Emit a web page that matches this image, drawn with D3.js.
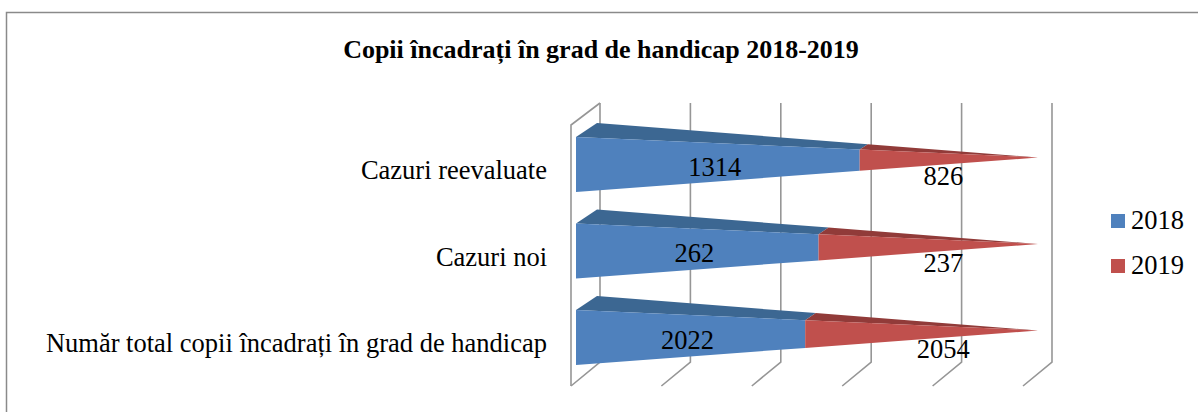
<!DOCTYPE html>
<html><head><meta charset="utf-8">
<script src="https://cdn.jsdelivr.net/npm/d3@7"></script>
<style>
html,body{margin:0;padding:0;background:#fff;}
svg{display:block;}
text{font-family:"Liberation Serif","Times New Roman",serif;fill:#000;}
</style></head>
<body>
<svg id="chart" width="1198" height="412"></svg>
<script>
// ---- data ----
const title = "Copii încadrați în grad de handicap 2018-2019";
const categories = ["Cazuri reevaluate", "Cazuri noi", "Număr total copii încadrați în grad de handicap"];
const values2018 = [1314, 262, 2022];
const values2019 = [826, 237, 2054];
const seriesNames = ["2018", "2019"];
const gridTicks = [0, 0.2, 0.4, 0.6, 0.8, 1];

// ---- layout ----
const W = 1198, H = 412;
const svg = d3.select("#chart");
const colors = {front: ["#4F81BD", "#C0504D"], top: ["#3C6792", "#913B39"]};
const gridColor = "#969696";

// outer border
svg.append("rect").attr("x", 6.5).attr("y", 12.5).attr("width", W).attr("height", H)
  .attr("fill", "none").attr("stroke", "#8a8a8a").attr("stroke-width", 1.5);

// title
svg.append("text").attr("x", 601).attr("y", 58).attr("text-anchor", "middle")
  .style("font-size", "26px").style("font-weight", "bold").text(title);

// scales
const xFront = d3.scaleLinear().domain([0, 1]).range([576, 1038]);   // bar front face
const xBack = d3.scaleLinear().domain([0, 1]).range([597, 1038]);    // bar back-top edge
const xGrid = d3.scaleLinear().domain([0, 1]).range([600, 1052]);    // back wall
const yC = d3.scalePoint().domain(categories).range([164.5, 337.5]);
const barH = 55, bdx = 21, bdy = -14;           // bar size and depth
const wallTop = 103, wallBot = 362, fdx = -29, fdy = 24; // walls/floor

// gridlines (back wall + floor)
const grid = svg.append("g").attr("stroke", gridColor).attr("stroke-width", 1.6).attr("fill", "none");
gridTicks.forEach(t => {
  const x = xGrid(t);
  grid.append("path").attr("d", `M${x},${wallTop}L${x},${wallBot}L${x + fdx},${wallBot + fdy}`);
});
// left side wall
const x0 = xGrid(0);
grid.append("path").attr("d", `M${x0},${wallTop}L${x0 + fdx},${wallTop + 22}L${x0 + fdx},${wallBot + fdy}`);

// bars
const bars = svg.append("g");
categories.forEach((c, i) => {
  const a = values2018[i], b = values2019[i], tot = a + b;
  const s = a / tot;
  const cy = yC(c), top = cy - barH / 2, bot = cy + barH / 2;
  const apexY = cy + bdy / 2;
  const fTop = t => [xFront(t), top + t * (apexY - top)];
  const fBot = t => [xFront(t), bot + t * (apexY - bot)];
  const bTop = t => [xBack(t), top + bdy + t * (apexY - top - bdy)];
  const segs = [[0, s], [s, 1]];
  segs.forEach(([t0, t1], k) => {
    bars.append("path")
      .attr("d", "M" + [fTop(t0), bTop(t0), bTop(t1), fTop(t1)].join("L") + "Z")
      .attr("fill", colors.top[k]);
  });
  segs.forEach(([t0, t1], k) => {
    bars.append("path")
      .attr("d", "M" + [fTop(t0), fTop(t1), fBot(t1), fBot(t0)].join("L") + "Z")
      .attr("fill", colors.front[k]);
  });
  // value labels
  svg.append("text").attr("x", xFront(s / 2) - 3).attr("y", cy + 11)
    .attr("text-anchor", "middle").style("font-size", "26.5px").text(a);
  svg.append("text").attr("x", xFront(0.795)).attr("y", cy + 20.5)
    .attr("text-anchor", "middle").style("font-size", "26.5px").text(b);
  // category labels
  svg.append("text").attr("x", 547).attr("y", cy + 14.5)
    .attr("text-anchor", "end").style("font-size", "26.5px").text(c);
});

// legend
const lg = svg.append("g");
seriesNames.forEach((n, k) => {
  const y = 214 + k * 45;
  lg.append("rect").attr("x", 1111).attr("y", y).attr("width", 14).attr("height", 14)
    .attr("fill", colors.front[k]);
  lg.append("text").attr("x", 1131).attr("y", y + 15).style("font-size", "26.5px").text(n);
});
</script>
</body></html>
